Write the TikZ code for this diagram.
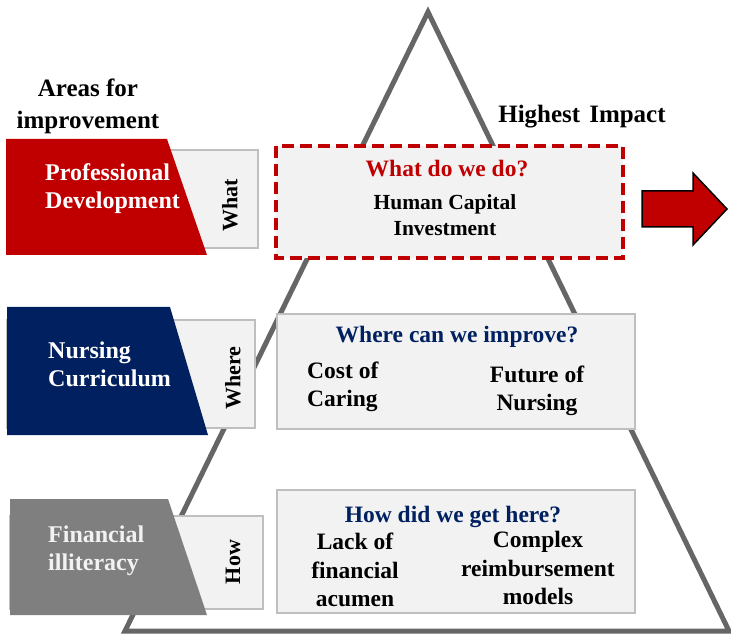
\documentclass[tikz,border=0pt]{standalone}
\usepackage{fontspec}
\setmainfont{Liberation Serif}
\definecolor{cred}{HTML}{C00000}
\definecolor{cnavy}{HTML}{002060}
\definecolor{cgray}{HTML}{7F7F7F}
\definecolor{clight}{HTML}{F2F2F2}
\definecolor{cborder}{HTML}{BFBFBF}
\definecolor{ctri}{HTML}{666666}
\begin{document}
\begin{tikzpicture}[x=1pt,y=-1pt,
  tri/.style={draw=ctri, line width=5pt, line join=miter},
  graybox/.style={draw=cborder, fill=clight, line width=1.5pt},
  txt/.style={font=\bfseries\fontsize{23.5}{28}\selectfont, inner sep=0pt, align=center},
  hd/.style={font=\bfseries\fontsize{25}{32}\selectfont, inner sep=0pt, align=center},
  side/.style={font=\bfseries\fontsize{24}{28}\selectfont, inner sep=0pt, align=left, anchor=west},
  vert/.style={font=\bfseries\fontsize{22}{26}\selectfont, inner sep=0pt, rotate=90},
  small/.style={font=\bfseries\fontsize{21.5}{26}\selectfont, inner sep=0pt, align=center}]
\useasboundingbox (0,0) rectangle (731,636);
\fill[white] (0,0) rectangle (731,636);
% pyramid
\draw[tri] (428,12) -- (729,631) -- (125,631) -- cycle;
% row 1
\draw[graybox] (7,150) rectangle (258,248);
\fill[cred] (6,139) -- (167,139) -- (207,255) -- (6,255) -- cycle;
\node[side, text=white] (pd) at (45,189) {Professional\\Development};
\node[vert] (what) at (230,205) {What};
% row 2
\draw[graybox] (7,320) rectangle (255,428);
\fill[cnavy] (7,307) -- (170,307) -- (208,435) -- (7,435) -- cycle;
\node[side, text=white] (nc) at (48,364) {Nursing\\Curriculum};
\node[vert] (where) at (233,378) {Where};
% row 3
\draw[graybox] (10,516) rectangle (263,609);
\fill[cgray] (10,499) -- (168,499) -- (207,615) -- (10,615) -- cycle;
\node[side, text=clight] (fi) at (48,551) {Financial\\illiteracy};
\node[vert] (how) at (233,562) {How};
% headings
\node[hd] (areas) at (88,106) {Areas for\\improvement};
\node[hd] (impact) at (582,117) {Highest\hspace{9pt}Impact};
% right box 1
\draw[cred, line width=4pt, dash pattern=on 12pt off 6pt, fill=clight] (276,146) rectangle (623,258);
\node[txt, text=cred] (q1) at (447,169) {What do we do?};
\node[small] (hci) at (445,215) {Human Capital\\Investment};
% arrow
\draw[black, line width=1.5pt, fill=cred, line join=miter] (642,191) -- (693,191) -- (693,173) -- (727,209) -- (693,245) -- (693,227) -- (642,227) -- cycle;
% right box 2
\draw[graybox] (277,314) rectangle (635,429);
\node[txt, text=cnavy] (q2) at (457,337) {Where can we improve?};
\node[txt, align=left, anchor=west] (cost) at (307,387) {Cost of\\Caring};
\node[txt] (future) at (537,391) {Future of\\Nursing};
% right box 3
\draw[graybox] (277,490) rectangle (635,613);
\node[txt, text=cnavy] (q3) at (453,517) {How did we get here?};
\node[txt, font=\bfseries\fontsize{23.5}{28.5}\selectfont] (lack) at (355,570) {Lack of\\financial\\acumen};
\node[txt, font=\bfseries\fontsize{23.5}{28.5}\selectfont] (complex) at (538,568) {Complex\\reimbursement\\models};
\end{tikzpicture}
\end{document}
